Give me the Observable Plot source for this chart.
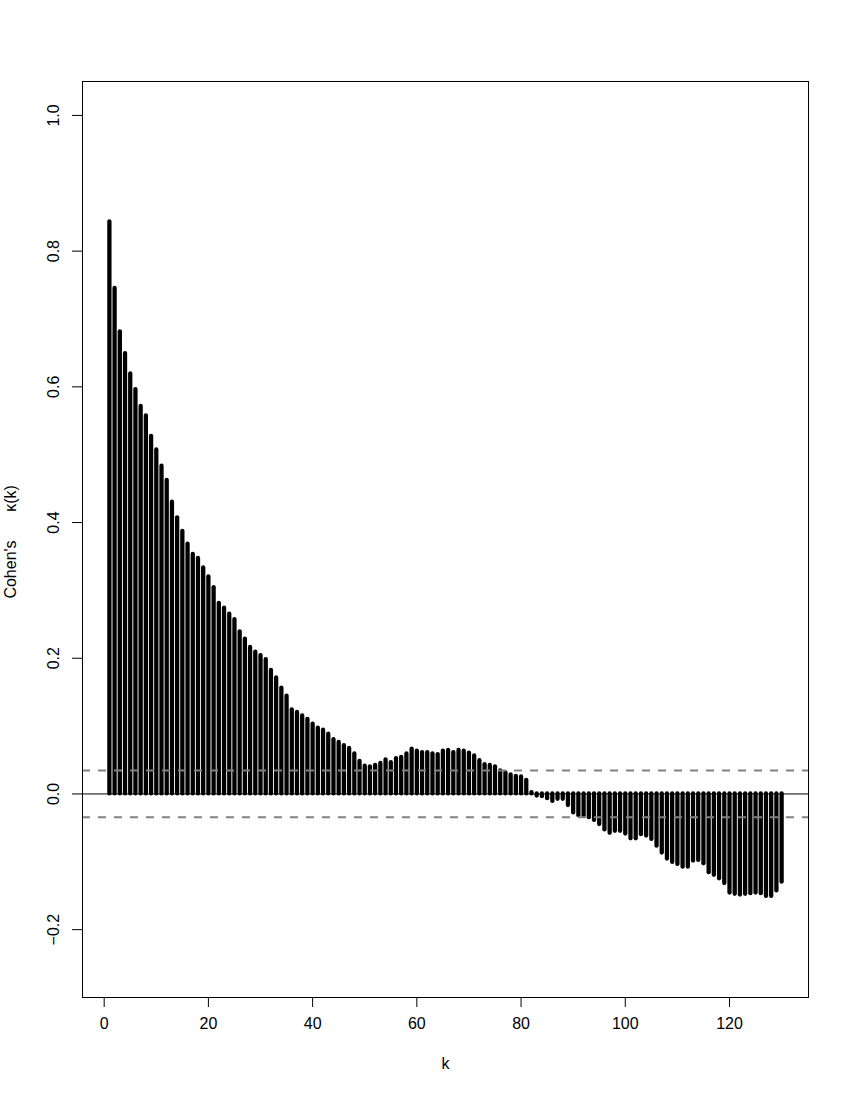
<!DOCTYPE html>
<html>
<head>
<meta charset="utf-8">
<script src="https://cdn.jsdelivr.net/npm/d3@7"></script>
<script src="https://cdn.jsdelivr.net/npm/@observablehq/plot@0.6"></script>
<style>
  html, body { margin: 0; padding: 0; background: #fff; }
</style>
</head>
<body>
<div id="chart"></div>
<script>
// Lags k = 1..130
const lags = d3.range(1, 131);
// Cohen's kappa values
const kappa = [
  0.843, 0.745, 0.681, 0.649, 0.619, 0.596, 0.571, 0.557, 0.527, 0.507,
  0.483, 0.462, 0.430, 0.407, 0.387, 0.368, 0.353, 0.347, 0.333, 0.320,
  0.304, 0.281, 0.274, 0.265, 0.257, 0.239, 0.228, 0.216, 0.209, 0.204,
  0.198, 0.182, 0.171, 0.156, 0.144, 0.124, 0.120, 0.115, 0.110, 0.103,
  0.097, 0.094, 0.088, 0.080, 0.076, 0.071, 0.067, 0.059, 0.048, 0.041,
  0.040, 0.042, 0.045, 0.050, 0.046, 0.052, 0.054, 0.059, 0.066, 0.063,
  0.061, 0.061, 0.059, 0.058, 0.063, 0.064, 0.061, 0.064, 0.063, 0.060,
  0.056, 0.049, 0.043, 0.042, 0.040, 0.034, 0.031, 0.028, 0.026, 0.025,
  0.020, 0.002, -0.003, -0.004, -0.007, -0.011, -0.008, -0.008, -0.017, -0.028,
  -0.032, -0.032, -0.035, -0.039, -0.045, -0.053, -0.058, -0.055, -0.055, -0.059,
  -0.066, -0.066, -0.060, -0.062, -0.067, -0.077, -0.087, -0.096, -0.101, -0.104,
  -0.108, -0.108, -0.099, -0.098, -0.103, -0.116, -0.120, -0.125, -0.132, -0.146,
  -0.148, -0.149, -0.148, -0.147, -0.146, -0.147, -0.151, -0.151, -0.143, -0.130
];
// significance bounds (dashed lines)
const bounds = [0.0345, -0.0345];
const xTicks = [0, 20, 40, 60, 80, 100, 120];
const yTicks = [-0.2, 0, 0.2, 0.4, 0.6, 0.8, 1.0];
const xLabel = "k";
const yLabelParts = ["Cohen's", "κ(k)"];

const data = lags.map((k, i) => ({k, v: kappa[i]}));
const fmtY = d => (d < 0 ? "\u2212" : "") + Math.abs(d).toFixed(1);

const chart = Plot.plot({
  width: 850,
  height: 1100,
  marginLeft: 82,
  marginRight: 42,
  marginTop: 81,
  marginBottom: 103,
  style: {fontFamily: "'Liberation Sans', Arial, Helvetica, sans-serif", fontSize: "16px", background: "#fff", color: "#000"},
  x: {domain: [-4.16, 135.16], axis: null},
  y: {domain: [-0.3, 1.05], axis: null},
  marks: [
    Plot.ruleX(data, {x: "k", y1: 0, y2: "v", stroke: "#000", strokeWidth: 4.3, strokeLinecap: "round"}),
    Plot.ruleY([0], {stroke: "#000", strokeWidth: 1}),
    Plot.ruleY(bounds, {stroke: "#808080", strokeWidth: 2, strokeDasharray: "8,8"}),
    Plot.frame({stroke: "#000", strokeWidth: 1}),
    Plot.axisX({ticks: xTicks, tickSize: 10, tickFormat: () => "", anchor: "bottom", stroke: "#000", label: null}),
    Plot.axisY({ticks: yTicks, tickSize: 10, tickFormat: () => "", anchor: "left", stroke: "#000", label: null}),
    Plot.text(xTicks, {x: d => d, text: d => String(d), frameAnchor: "bottom", textAnchor: "middle", dy: 31, fill: "#000"}),
    Plot.text(yTicks, {y: d => d, text: fmtY, frameAnchor: "left", textAnchor: "middle", dx: -29, rotate: -90, fill: "#000"}),
    Plot.text([xLabel], {text: d => d, frameAnchor: "bottom", textAnchor: "middle", dy: 71, fill: "#000"}),
    Plot.text([yLabelParts[0]], {text: d => d, frameAnchor: "left", textAnchor: "middle", dx: -72, dy: 30, rotate: -90, fill: "#000"}),
    Plot.text([yLabelParts[1]], {text: d => d, frameAnchor: "left", textAnchor: "middle", dx: -72, dy: -41, rotate: -90, fill: "#000"})
  ]
});
document.getElementById("chart").appendChild(chart);
</script>
</body>
</html>
